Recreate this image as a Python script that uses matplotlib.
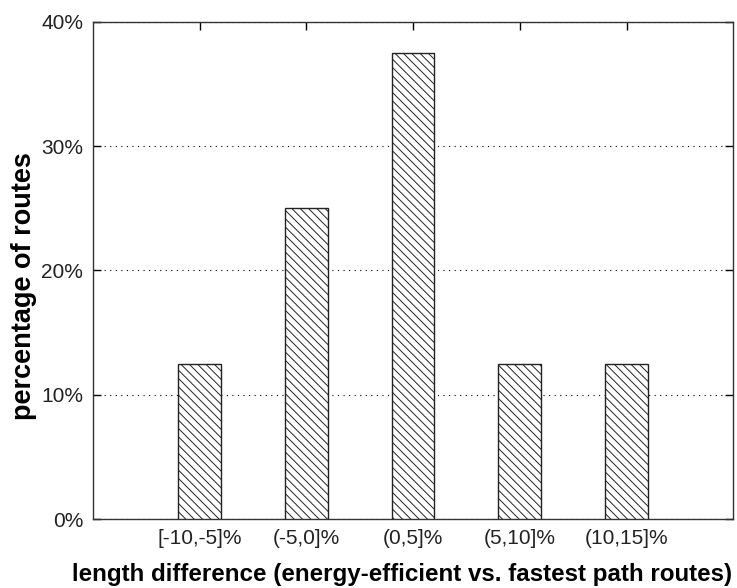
import matplotlib
matplotlib.use("Agg")
import matplotlib.pyplot as plt
from matplotlib.ticker import FuncFormatter

categories = ["[-10,-5]%", "(-5,0]%", "(0,5]%", "(5,10]%", "(10,15]%"]
percentages = [12.5, 25.0, 37.5, 12.5, 12.5]

plt.rcParams["font.family"] = ["Liberation Sans", "DejaVu Sans"]
plt.rcParams["hatch.linewidth"] = 0.7
plt.rcParams["hatch.color"] = "#222222"

fig = plt.figure(figsize=(7.37, 5.88), dpi=100)
ax = fig.add_axes([0.126, 0.117, 0.869, 0.846])

positions = list(range(1, len(categories) + 1))
ax.bar(positions, percentages, width=0.4, color="white", edgecolor="#222222",
       linewidth=1.0, hatch="\\\\\\\\", zorder=3)

ax.set_xlim(0, 6)
ax.set_ylim(0, 40)
ax.set_xticks(positions)
ax.set_xticklabels(categories)
ax.set_yticks([0, 10, 20, 30, 40])
ax.yaxis.set_major_formatter(FuncFormatter(lambda v, p: f"{v:.0f}%"))
ax.tick_params(direction="in", length=6, width=1, top=True, right=True,
               labelsize=15, pad=7, labelcolor="#222222")
ax.grid(axis="y", color="black", linestyle=(0, (1, 4)), linewidth=0.8, zorder=1)
for s in ax.spines.values():
    s.set_linewidth(1.0)
    s.set_color("#333333")

xl = ax.set_xlabel("length difference (energy-efficient vs. fastest path routes)",
                   fontsize=17, fontweight="bold", va="center")
yl = ax.set_ylabel("percentage of routes", fontsize=17, fontweight="bold", va="center")
ax.xaxis.set_label_coords(0.483, -0.111)
ax.yaxis.set_label_coords(-0.108, 0.469)

# fit label sizes to the pixel extents measured on the reference
fig.canvas.draw()
r = fig.canvas.get_renderer()
w = xl.get_window_extent(r).width
xl.set_fontsize(17 * 661 / w)
h = yl.get_window_extent(r).height
yl.set_fontsize(17 * 268 / h)

fig.savefig("out.png", dpi=100)
